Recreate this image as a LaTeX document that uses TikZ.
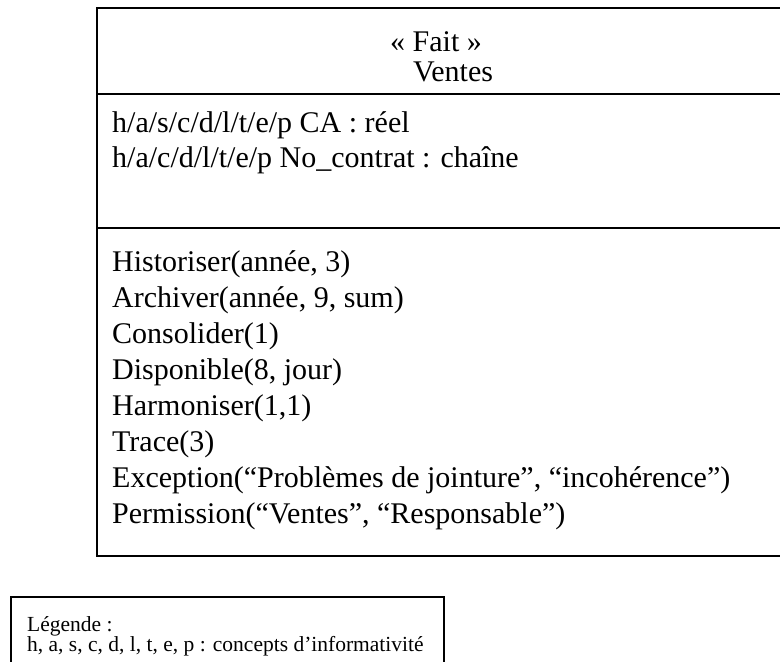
\documentclass[tikz,border=0pt]{standalone}
\usepackage{fontspec}
\setmainfont{Liberation Serif}
\begin{document}
\begin{tikzpicture}[x=1pt,y=-1pt,
  mtext/.style={anchor=base west, inner sep=0pt, font=\fontsize{30}{35}\selectfont},
  ctext/.style={anchor=base, inner sep=0pt, font=\fontsize{30}{35}\selectfont},
  ltext/.style={anchor=base west, inner sep=0pt, font=\fontsize{21.5}{24}\selectfont},
  frame/.style={draw=black, line width=2pt},
  lframe/.style={draw=black, line width=1.6pt}]
\useasboundingbox (0,0) rectangle (780,662);
\clip (0,0) rectangle (780,662);
% class box
\draw[frame] (97,8) rectangle (800,556);
\coordinate (s1l) at (97,94);
\coordinate (s1r) at (800,94);
\coordinate (s2l) at (97,228);
\coordinate (s2r) at (800,228);
\draw[frame] (s1l) -- (s1r);
\draw[frame] (s2l) -- (s2r);
% header
\node[ctext] (stereo) at (436,51) {«~Fait~»};
\node[ctext] (cname) at (453,81) {Ventes};
% attributes
\node[mtext] (a1) at (112,132) {h/a/s/c/d/l/t/e/p CA : réel};
\node[mtext] (a2) at (112,167) {h/a/c/d/l/t/e/p No\_contrat : chaîne};
% methods
\node[mtext] (m1) at (112,271) {Historiser(année, 3)};
\node[mtext] (m2) at (112,307) {Archiver(année, 9, sum)};
\node[mtext] (m3) at (112,343) {Consolider(1)};
\node[mtext] (m4) at (112,379) {Disponible(8, jour)};
\node[mtext] (m5) at (112,415) {Harmoniser(1,1)};
\node[mtext] (m6) at (112,451) {Trace(3)};
\node[mtext] (m7) at (112,487) {Exception(“Problèmes de jointure”, “incohérence”)};
\node[mtext] (m8) at (112,523) {Permission(“Ventes”, “Responsable”)};
% legend
\draw[lframe] (11,597) rectangle (444,700);
\node[ltext] (l1) at (27,631) {Légende :};
\node[ltext] (l2) at (27,651) {h, a, s, c, d, l, t, e, p : concepts d’informativité};
\end{tikzpicture}
\end{document}
